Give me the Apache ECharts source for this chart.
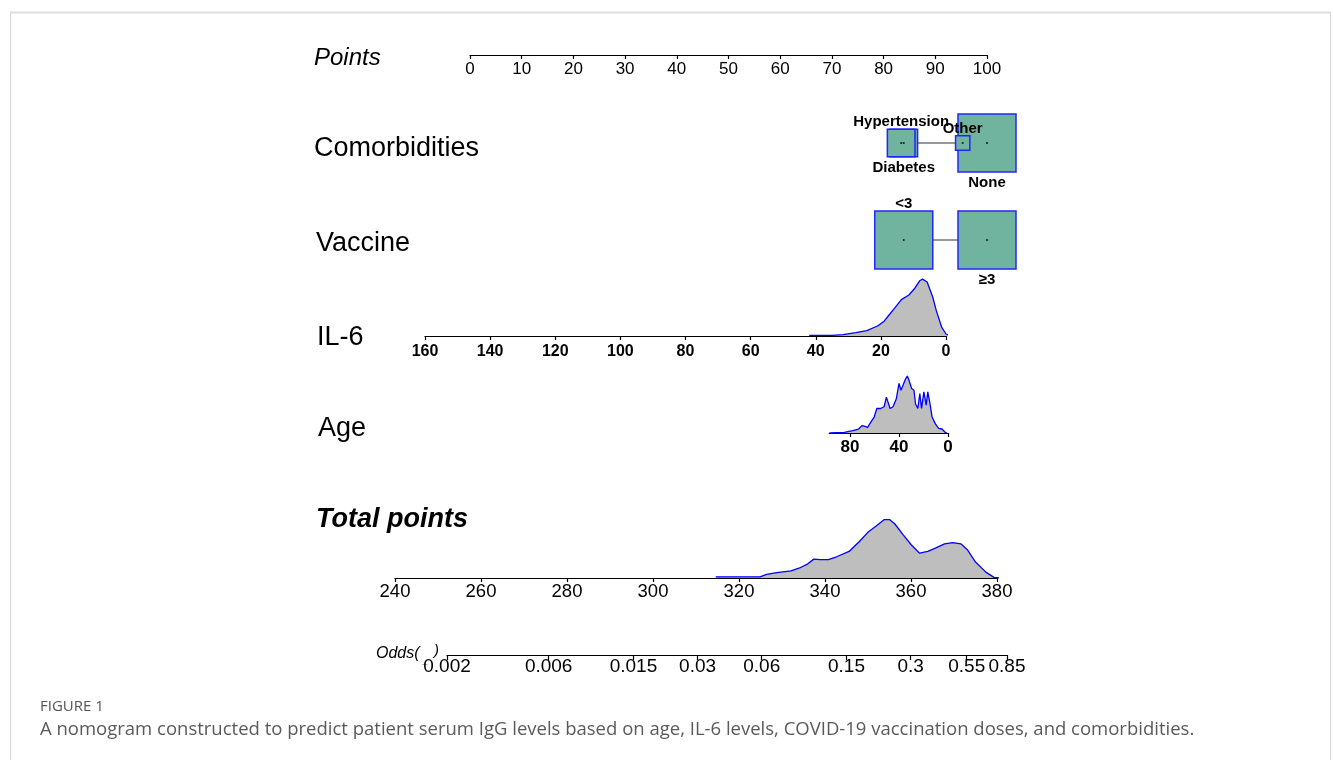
<!DOCTYPE html>
<html>
<head>
<meta charset="utf-8">
<script src="https://cdn.jsdelivr.net/npm/echarts@6/dist/echarts.min.js"></script>
<style>html,body{margin:0;padding:0;background:#fff;}#c{width:1333px;height:760px;}</style>
</head>
<body>
<div id="c"></div>
<script>
// ---------------- data ----------------
const comorbLevels = ['Hypertension', 'Diabetes', 'Other', 'None'];
const comorbPoints = [83.4, 83.9, 95.3, 100];
const comorbShare  = [0.15, 0.15, 0.04, 0.66];

const vaccineLevels = ['<3', '≥3'];
const vaccinePoints = [83.9, 100];
const vaccineShare  = [0.5, 0.5];

const il6X = [42, 35, 31.6, 27.7, 24.3, 20.9, 19, 17.6, 15.9, 13.7, 11.4, 9.7, 8.1, 7.2, 5.8, 4.1, 3.0, 1.3, 0, -1, -2.8];
const il6Y = [0.01, 0.012, 0.024, 0.06, 0.095, 0.18, 0.26, 0.36, 0.48, 0.64, 0.72, 0.83, 0.97, 1.0, 0.95, 0.69, 0.45, 0.15, 0.035, 0.01, 0.01];

const ageX = [96.8, 84.6, 77.8, 73, 70.3, 68.4, 65.7, 63, 60.3, 58.1, 54.9, 52.2, 50.3, 48.9, 47.3, 44.9, 42.2, 40, 38.4, 36.8, 34.6, 33.2, 31.9, 29.7, 27.8, 26.5, 24.6, 23, 21.6, 19.7, 17.8, 16.5, 14.9, 13, 10.3, 7.6, 4.9, 2.2, 0.8];
const ageY = [0, 0.01, 0.04, 0.07, 0.13, 0.12, 0.10, 0.19, 0.28, 0.43, 0.43, 0.46, 0.63, 0.65, 0.43, 0.46, 0.60, 0.87, 0.75, 0.78, 0.95, 1.0, 0.93, 0.78, 0.75, 0.51, 0.43, 0.69, 0.43, 0.72, 0.49, 0.72, 0.54, 0.28, 0.16, 0.08, 0.07, 0.01, 0];

const totalX = [314.6, 324.9, 326.4, 328.8, 332.1, 334.1, 336, 337.4, 338.9, 340.8, 342.7, 345.6, 348, 349.9, 351.9, 353.8, 355, 356.2, 358.1, 360.1, 362, 363.9, 365.8, 367.8, 369.7, 371.6, 373.1, 375, 377.4, 379.3, 380.8];
const totalY = [0.02, 0.02, 0.06, 0.09, 0.12, 0.17, 0.24, 0.32, 0.31, 0.31, 0.36, 0.45, 0.62, 0.77, 0.88, 0.99, 0.99, 0.92, 0.74, 0.56, 0.42, 0.45, 0.51, 0.58, 0.60, 0.58, 0.48, 0.27, 0.10, 0.01, 0.0];

const ageTicks = [0, 40, 80];
const oddsTicks = [0.002, 0.006, 0.015, 0.03, 0.06, 0.15, 0.3, 0.55, 0.85];

const rowNames = ['Comorbidities', 'Vaccine'];
const caption = 'A nomogram constructed to predict patient serum IgG levels based on age, IL-6 levels, COVID-19 vaccination doses, and comorbidities.';

// ---------------- styles ----------------
const FONT = 'Liberation Sans, Arial, sans-serif';
const BOX_MAX = 58;
const boxFill = '#70b4a0', boxBorder = '#2424ff';
const densFill = '#bebebe', densLine = '#0000ff';

function baseX(gi, min, max, extra) {
  return Object.assign({
    gridIndex: gi, type: 'value', min: min, max: max,
    axisLine: {show: true, onZero: false, lineStyle: {color: '#000', width: 1.2}},
    axisTick: {show: true, length: 4, lineStyle: {color: '#000', width: 1.2}},
    splitLine: {show: false},
    axisLabel: {color: '#000', fontFamily: FONT, fontSize: 17, margin: 6}
  }, extra || {});
}
function hiddenY(gi, max) {
  return {gridIndex: gi, type: 'value', min: 0, max: max, show: false, splitLine: {show: false}};
}
function density(gi, xs, ys) {
  return {
    type: 'line', xAxisIndex: gi, yAxisIndex: gi, data: xs.map((x, i) => [x, ys[i]]),
    symbol: 'none', clip: false, smooth: false,
    lineStyle: {color: densLine, width: 1.3},
    areaStyle: {color: densFill, opacity: 1},
    z: 1, silent: true
  };
}
function boxes(row, levels, pts, share) {
  const mx = Math.max.apply(null, share);
  const items = levels.map((name, i) => {
    const top = i % 2 === 0;
    return {
      name: name,
      idx: i,
      value: [pts[i], row],
      symbolSize: BOX_MAX * Math.sqrt(share[i] / mx),
      label: {position: top ? 'top' : 'bottom', distance: top ? -1 : 3}
    };
  });
  items.sort((a, b) => (b.symbolSize - a.symbolSize) || (b.idx - a.idx));
  return [
    {
      type: 'line', xAxisIndex: 1, yAxisIndex: 1, symbol: 'none', silent: true, z: 1,
      data: [[Math.min.apply(null, pts), row], [Math.max.apply(null, pts), row]],
      lineStyle: {color: '#333', width: 1}
    },
    {
      type: 'scatter', xAxisIndex: 1, yAxisIndex: 1, symbol: 'rect', data: items, z: 2, silent: true,
      itemStyle: {color: boxFill, borderColor: boxBorder, borderWidth: 1.5, opacity: 1},
      label: {show: true, formatter: '{b}', color: '#000', fontFamily: FONT, fontSize: 15, fontWeight: 'bold'}
    },
    {
      type: 'scatter', xAxisIndex: 1, yAxisIndex: 1, symbol: 'circle', symbolSize: 2.2, z: 3, silent: true,
      data: levels.map((n, i) => [pts[i], row]), itemStyle: {color: '#000'}
    }
  ];
}

const option = {
  animation: false,
  backgroundColor: '#fff',
  grid: [
    {left: 470, width: 517, top: 30, height: 25},     // Points
    {left: 470, width: 517, top: 94.5, height: 194},  // categorical rows
    {left: 425, width: 521, top: 270, height: 66},    // IL-6
    {left: 829.2, width: 118.8, top: 370, height: 63},// Age
    {left: 395, width: 602, top: 510, height: 68},    // Total points
    {left: 447, width: 560, top: 640, height: 15}     // Odds
  ],
  xAxis: [
    baseX(0, 0, 100, {interval: 10}),
    {gridIndex: 1, type: 'value', min: 0, max: 100, show: false},
    baseX(2, 0, 160, {interval: 20, inverse: true,
      axisLabel: {color: '#000', fontFamily: FONT, fontSize: 16, fontWeight: 'bold', margin: 7.5}}),
    baseX(3, 0, 97, {inverse: true,
      axisTick: {show: true, length: 4, customValues: ageTicks, lineStyle: {color: '#000', width: 1.2}},
      axisLabel: {color: '#000', fontFamily: FONT, fontSize: 17, fontWeight: 'bold', margin: 5.5, customValues: ageTicks}}),
    baseX(4, 240, 380, {interval: 20,
      axisLabel: {color: '#000', fontFamily: FONT, fontSize: 18.5, margin: 4}}),
    baseX(5, Math.log(oddsTicks[0]), Math.log(oddsTicks[oddsTicks.length - 1]), {
      axisTick: {show: true, length: 5, customValues: oddsTicks.map(Math.log), lineStyle: {color: '#000', width: 1.2}},
      axisLabel: {color: '#000', fontFamily: FONT, fontSize: 19, margin: 2,
        customValues: oddsTicks.map(Math.log),
        formatter: function (v) {
          let best = oddsTicks[0], d = 1e9;
          oddsTicks.forEach(t => { const dd = Math.abs(Math.log(t) - v); if (dd < d) { d = dd; best = t; } });
          return String(best);
        }}
    })
  ],
  yAxis: [
    hiddenY(0, 1),
    {gridIndex: 1, type: 'category', data: rowNames, inverse: true, show: false},
    hiddenY(2, 1.16),
    hiddenY(3, 1.105),
    hiddenY(4, 1.153),
    hiddenY(5, 1)
  ],
  series: [].concat(
    boxes('Comorbidities', comorbLevels, comorbPoints, comorbShare),
    boxes('Vaccine', vaccineLevels, vaccinePoints, vaccineShare),
    [density(2, il6X, il6Y), density(3, ageX, ageY), density(4, totalX, totalY)]
  ),
  graphic: [
    {type: 'rect', silent: true, shape: {x: 10.5, y: 12.5, width: 1320, height: 800},
      style: {fill: 'none', stroke: '#d4d4d4', lineWidth: 1}},
    {type: 'line', silent: true, shape: {x1: 10, y1: 12.5, x2: 1331, y2: 12.5},
      style: {stroke: '#dedede', lineWidth: 2}},
    {type: 'text', x: 314, y: 58, style: {text: 'Points', font: 'italic 24px ' + FONT, fill: '#000', verticalAlign: 'middle'}},
    {type: 'text', x: 314, y: 148.5, style: {text: rowNames[0], font: '27px ' + FONT, fill: '#000', verticalAlign: 'middle'}},
    {type: 'text', x: 316, y: 244, style: {text: rowNames[1], font: '27px ' + FONT, fill: '#000', verticalAlign: 'middle'}},
    {type: 'text', x: 317, y: 338, style: {text: 'IL-6', font: '27px ' + FONT, fill: '#000', verticalAlign: 'middle'}},
    {type: 'text', x: 318, y: 429, style: {text: 'Age', font: '27px ' + FONT, fill: '#000', verticalAlign: 'middle'}},
    {type: 'text', x: 316, y: 520, style: {text: 'Total points', font: 'italic bold 27px ' + FONT, fill: '#000', verticalAlign: 'middle'}},
    {type: 'text', x: 376, y: 654, style: {text: 'Odds(', font: 'italic 16px ' + FONT, fill: '#000', verticalAlign: 'middle'}},
    {type: 'text', x: 423, y: 661, style: {text: '_', font: 'italic 9px ' + FONT, fill: '#000', verticalAlign: 'middle'}},
    {type: 'text', x: 434, y: 651, style: {text: ')', font: 'italic 15px ' + FONT, fill: '#000', verticalAlign: 'middle'}},
    {type: 'text', x: 40, y: 707, style: {text: 'FIGURE 1', font: '15px Open Sans, sans-serif', fill: '#555', verticalAlign: 'middle'}},
    {type: 'text', x: 40, y: 730, style: {text: caption, font: '18.5px Open Sans, sans-serif', fill: '#5a5a5a', verticalAlign: 'middle'}}
  ]
};
const chart = echarts.init(document.getElementById('c'), null, {renderer: 'canvas'});
chart.setOption(option);
</script>
</body>
</html>
